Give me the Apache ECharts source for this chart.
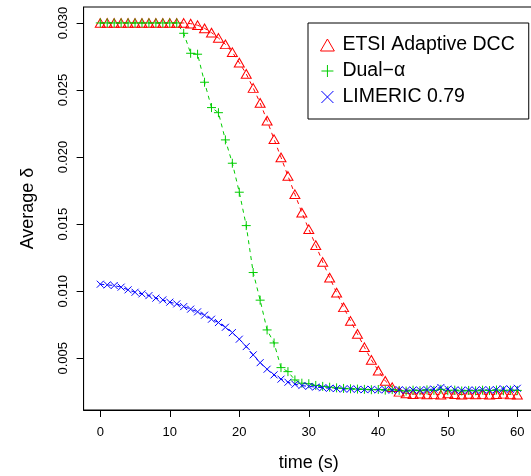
<!DOCTYPE html>
<html>
<head>
<meta charset="utf-8">
<script src="https://cdn.jsdelivr.net/npm/echarts@6/dist/echarts.min.js"></script>
<style>
html, body { margin: 0; padding: 0; background: #fff; }
#chart { width: 531px; height: 476px; }
</style>
</head>
<body>
<div id="chart"></div>
<script>
// sample times (s)
const time = [0, 1, 2, 3, 4, 5, 6, 7, 8, 9, 10, 11, 12, 13, 14, 15, 16, 17, 18, 19, 20,
	21, 22, 23, 24, 25, 26, 27, 28, 29, 30, 31, 32, 33, 34, 35, 36, 37, 38, 39, 40,
	41, 42, 43, 44, 45, 46, 47, 48, 49, 50, 51, 52, 53, 54, 55, 56, 57, 58, 59, 60]

const etsi = [0.030, 0.030, 0.030, 0.030, 0.030, 0.030, 0.030, 0.030, 0.030, 0.030, 0.030, 0.030,
	0.0300, 0.02995, 0.02983, 0.0296, 0.02928, 0.02888, 0.02841, 0.02782, 0.02704,
	0.0262, 0.02515, 0.02404, 0.02272, 0.02133, 0.01998, 0.01859, 0.01723, 0.01586, 0.01462,
	0.01343, 0.01218, 0.01101, 0.00989, 0.0088, 0.00778, 0.00682, 0.00582, 0.00488, 0.00408,
	0.00331, 0.00284, 0.0025, 0.00238, 0.00232, 0.00236, 0.0023, 0.00233, 0.00228, 0.00238,
	0.00232, 0.00229, 0.00234, 0.0023, 0.00233, 0.00228, 0.00232, 0.00235, 0.0023, 0.00228]

const dual = [0.030, 0.030, 0.030, 0.030, 0.030, 0.030, 0.030, 0.030, 0.030, 0.030, 0.030, 0.030,
	0.02923, 0.02774, 0.02767, 0.02558, 0.02369, 0.02331, 0.02128, 0.01954, 0.01738,
	0.01489, 0.01139, 0.00933, 0.00711, 0.00614, 0.0043, 0.0040, 0.00338, 0.00314, 0.0031,
	0.00297, 0.0029, 0.00284, 0.00279, 0.00275, 0.00272, 0.0027, 0.00268, 0.00265, 0.00267,
	0.00262, 0.00266, 0.0026, 0.00255, 0.00262, 0.00258, 0.00264, 0.0026, 0.00268, 0.00258,
	0.00262, 0.00256, 0.0026, 0.00257, 0.00262, 0.00259, 0.00263, 0.00258, 0.00262, 0.0026]

const limeric = [0.01052, 0.01047, 0.01042, 0.0103, 0.0101, 0.00992, 0.0098, 0.00967, 0.00948, 0.00935,
	0.00918, 0.00905, 0.00885, 0.00866, 0.00846, 0.00821, 0.00791, 0.00766, 0.00731, 0.00691,
	0.00642, 0.00587, 0.00525, 0.00467, 0.00418, 0.00376, 0.00344, 0.00321, 0.00306, 0.00296,
	0.0029, 0.00285, 0.0028, 0.00276, 0.00274, 0.0027, 0.00272, 0.00268, 0.00266, 0.00268,
	0.00264, 0.00266, 0.00262, 0.00265, 0.0026, 0.00263, 0.00261, 0.00266, 0.0027, 0.00282,
	0.0027, 0.00264, 0.0026, 0.00263, 0.00261, 0.00265, 0.00262, 0.00266, 0.00272, 0.00268, 0.00276]

const xTicks = [0, 10, 20, 30, 40, 50, 60]
const yTicks = [0.005, 0.010, 0.015, 0.020, 0.025, 0.030]

const names = ['ETSI Adaptive DCC', 'Dual\u2212\u03b1', 'LIMERIC 0.79']
const colors = ['#ff0000', '#00cd00', '#0000ff']

// R style pch 2, 3, 4
const triangle = 'path://M5,0L10,8.66L0,8.66Z'
const plus = 'path://M0,5L10,5M5,0L5,10'
const cross = 'path://M0,0L10,10M10,0L0,10'

const font = 'Liberation Sans, Arial, sans-serif'

function pairs(vals) {
	let arr = []
	for (let i = 0; i < time.length; i++) {
		arr.push([time[i], vals[i]])
	}
	return arr
}

function makeSeries(name, vals, color, symbol, size) {
	return {
		name: name,
		type: 'line',
		data: pairs(vals),
		symbol: symbol,
		symbolSize: size,
		showAllSymbol: true,
		animation: false,
		itemStyle: {
			color: 'transparent',
			borderColor: color,
			borderWidth: 1
		},
		lineStyle: {
			color: color,
			width: 1,
			type: [4, 4]
		},
		emphasis: { disabled: true }
	}
}

function legendItem(i, icon) {
	return {
		name: names[i],
		icon: icon,
		itemStyle: { color: 'transparent', borderColor: colors[i], borderWidth: 1 }
	}
}

let chart = echarts.init(document.getElementById('chart'), null, { renderer: 'canvas' })

let option = {
	backgroundColor: '#fff',
	animation: false,
	grid: {
		left: 83.6,
		top: 7,
		width: 450.4,
		height: 403,
		show: true,
		borderColor: '#000',
		borderWidth: 1,
		backgroundColor: 'transparent',
		containLabel: false,
		outerBoundsMode: 'none'
	},
	legend: {
		orient: 'vertical',
		left: 308,
		top: 23,
		padding: [12, 14, 12, 12],
		itemWidth: 20,
		itemHeight: 12,
		itemGap: 6,
		backgroundColor: '#fff',
		borderColor: '#000',
		borderWidth: 1,
		borderRadius: 0,
		textStyle: { fontFamily: font, fontSize: 19.5, lineHeight: 19, color: '#000' },
		data: [legendItem(0, triangle), legendItem(1, plus), legendItem(2, cross)]
	},
	xAxis: {
		type: 'value',
		min: -2.4,
		max: 62.4,
		name: 'time (s)',
		nameLocation: 'middle',
		nameGap: 44,
		nameTextStyle: { fontFamily: font, fontSize: 18, color: '#000' },
		axisLine: { show: true, onZero: false, lineStyle: { color: '#000', width: 1 } },
		axisTick: { show: true, length: 7, lineStyle: { color: '#000' }, customValues: xTicks },
		axisLabel: { fontFamily: font, fontSize: 13, color: '#000', margin: 16, customValues: xTicks },
		splitLine: { show: false }
	},
	yAxis: {
		type: 'value',
		min: 0.00114,
		max: 0.03119,
		name: 'Average \u03b4',
		nameLocation: 'middle',
		nameGap: 47,
		nameTextStyle: { fontFamily: font, fontSize: 18, color: '#000' },
		axisLine: { show: true, onZero: false, lineStyle: { color: '#000', width: 1 } },
		axisTick: { show: true, length: 7, lineStyle: { color: '#000' }, customValues: yTicks },
		axisLabel: {
			fontFamily: font, fontSize: 13, color: '#000', margin: 14, rotate: 90,
			customValues: yTicks,
			formatter: v => v.toFixed(3)
		},
		splitLine: { show: false }
	},
	series: [
		makeSeries(names[0], etsi, colors[0], triangle, [10, 8.7]),
		makeSeries(names[1], dual, colors[1], plus, 9),
		makeSeries(names[2], limeric, colors[2], cross, 7)
	]
}

chart.setOption(option)
</script>
</body>
</html>
